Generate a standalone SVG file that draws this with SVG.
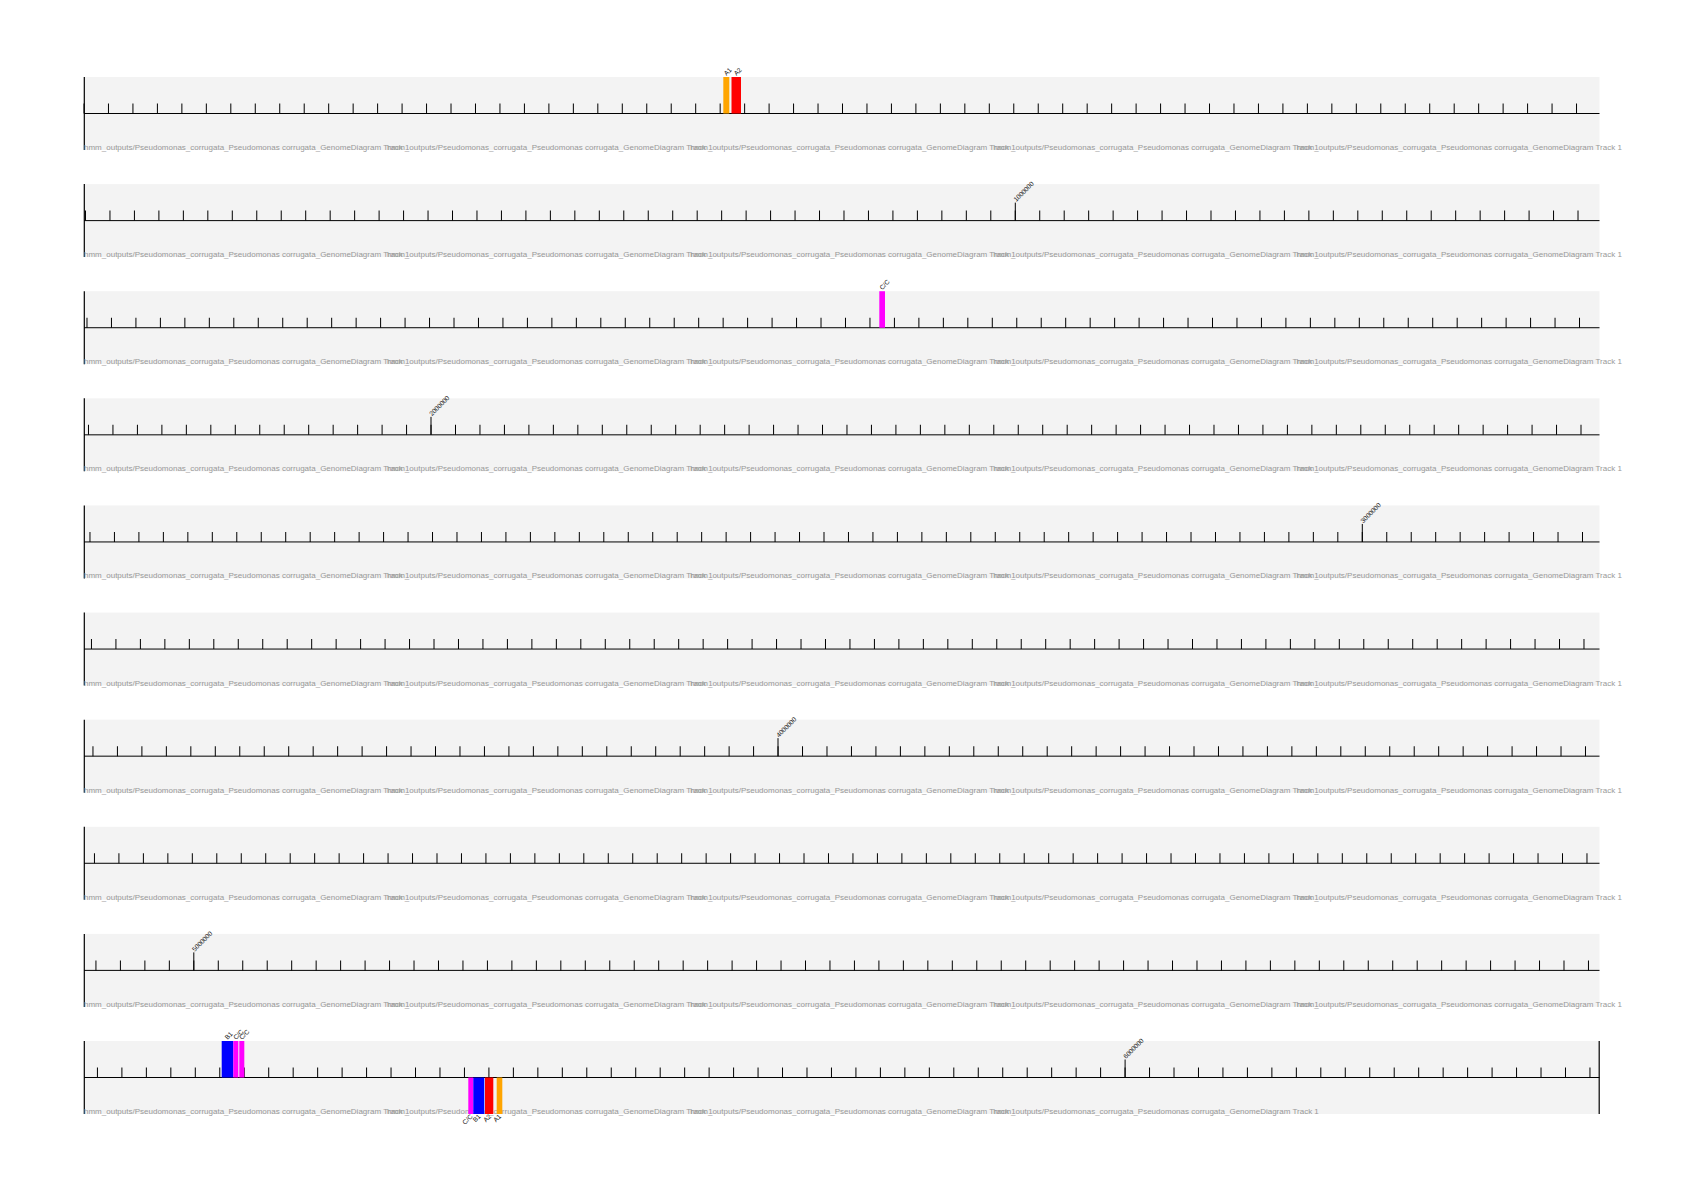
<svg xmlns="http://www.w3.org/2000/svg" width="1684" height="1191" viewBox="0 0 1684 1191">
<style>
.bg{fill:#ffffff}
.band{fill:#f3f3f3}
.axis{stroke:#000;stroke-width:1;fill:none}
.edge{stroke:#000;stroke-width:1.2;fill:none}
.ticks{stroke:#000;stroke-width:10;stroke-dasharray:1 23.4676;fill:none}
.big{stroke:#000;stroke-width:1;fill:none}
.lbl{font-family:"Liberation Sans",Arial,sans-serif;font-size:8px;fill:#999999}
.sl{font-family:"Liberation Sans",Arial,sans-serif;font-size:6.5px;fill:#111}
.fl{font-family:"Liberation Sans",Arial,sans-serif;font-size:6.5px;fill:#111}
.fr{font-family:"Liberation Sans",Arial,sans-serif;font-size:6.5px;fill:#111;text-anchor:end}
.orange{fill:#ffa500}
.red{fill:#ff0000}
.mag{fill:#ff00ff}
.blue{fill:#0000ff}
</style>
<defs>
<g id="labels5">
<text class="lbl" x="84" y="73">hmm_outputs/Pseudomonas_corrugata_Pseudomonas corrugata_GenomeDiagram Track 1</text>
<text class="lbl" x="387.1" y="73">hmm_outputs/Pseudomonas_corrugata_Pseudomonas corrugata_GenomeDiagram Track 1</text>
<text class="lbl" x="690.2" y="73">hmm_outputs/Pseudomonas_corrugata_Pseudomonas corrugata_GenomeDiagram Track 1</text>
<text class="lbl" x="993.3" y="73">hmm_outputs/Pseudomonas_corrugata_Pseudomonas corrugata_GenomeDiagram Track 1</text>
<text class="lbl" x="1296.4" y="73">hmm_outputs/Pseudomonas_corrugata_Pseudomonas corrugata_GenomeDiagram Track 1</text>
</g>
<g id="base">
<rect class="band" x="84" y="0" width="1515.5" height="73"/>
<line class="axis" x1="84" y1="36.5" x2="1599.5" y2="36.5"/>
<line class="edge" x1="84.3" y1="0" x2="84.3" y2="73"/>
</g>
</defs>
<rect class="bg" x="0" y="0" width="1684" height="1191"/>

<g id="row1" transform="translate(0,77)">
<use href="#base"/>
<line class="ticks" x1="83.5" y1="31.5" x2="1599.5" y2="31.5"/>
<use href="#labels5"/>
<g id="features1">
<rect class="orange" x="723.3" y="0" width="6" height="36.5"/>
<rect class="red" x="731.5" y="0" width="9.5" height="36.5"/>
<text class="fl" transform="translate(726.5,-1) rotate(-45)">A1</text>
<text class="fl" transform="translate(736.5,-1) rotate(-45)">A2</text>
</g>
</g>

<g id="row2" transform="translate(0,184.11)">
<use href="#base"/>
<line class="ticks" x1="84.99" y1="31.5" x2="1599.5" y2="31.5"/>
<line class="big" x1="1015.3" y1="18.5" x2="1015.3" y2="36.5"/>
<text class="sl" transform="translate(1016.3,18) rotate(-45)">1000000</text>
<use href="#labels5"/>
</g>

<g id="row3" transform="translate(0,291.22)">
<use href="#base"/>
<line class="ticks" x1="86.49" y1="31.5" x2="1599.5" y2="31.5"/>
<use href="#labels5"/>
<g id="features3">
<rect class="mag" x="879.3" y="0" width="5.7" height="36.5"/>
<text class="fl" transform="translate(882.2,-1) rotate(-45)">C/C</text>
</g>
</g>

<g id="row4" transform="translate(0,398.33)">
<use href="#base"/>
<line class="ticks" x1="87.98" y1="31.5" x2="1599.5" y2="31.5"/>
<line class="big" x1="431" y1="18.5" x2="431" y2="36.5"/>
<text class="sl" transform="translate(432,18) rotate(-45)">2000000</text>
<use href="#labels5"/>
</g>

<g id="row5" transform="translate(0,505.44)">
<use href="#base"/>
<line class="ticks" x1="89.47" y1="31.5" x2="1599.5" y2="31.5"/>
<line class="big" x1="1362.3" y1="18.5" x2="1362.3" y2="36.5"/>
<text class="sl" transform="translate(1363.3,18) rotate(-45)">3000000</text>
<use href="#labels5"/>
</g>

<g id="row6" transform="translate(0,612.56)">
<use href="#base"/>
<line class="ticks" x1="90.96" y1="31.5" x2="1599.5" y2="31.5"/>
<use href="#labels5"/>
</g>

<g id="row7" transform="translate(0,719.67)">
<use href="#base"/>
<line class="ticks" x1="92.46" y1="31.5" x2="1599.5" y2="31.5"/>
<line class="big" x1="778" y1="18.5" x2="778" y2="36.5"/>
<text class="sl" transform="translate(779,18) rotate(-45)">4000000</text>
<use href="#labels5"/>
</g>

<g id="row8" transform="translate(0,826.78)">
<use href="#base"/>
<line class="ticks" x1="93.95" y1="31.5" x2="1599.5" y2="31.5"/>
<use href="#labels5"/>
</g>

<g id="row9" transform="translate(0,933.89)">
<use href="#base"/>
<line class="ticks" x1="95.44" y1="31.5" x2="1599.5" y2="31.5"/>
<line class="big" x1="193.8" y1="18.5" x2="193.8" y2="36.5"/>
<text class="sl" transform="translate(194.8,18) rotate(-45)">5000000</text>
<use href="#labels5"/>
</g>

<g id="row10" transform="translate(0,1041)">
<use href="#base"/>
<line class="ticks" x1="96.93" y1="31.5" x2="1599.5" y2="31.5"/>
<line class="edge" x1="1599.2" y1="0" x2="1599.2" y2="73"/>
<line class="big" x1="1125.1" y1="18.5" x2="1125.1" y2="36.5"/>
<text class="sl" transform="translate(1126.1,18) rotate(-45)">6000000</text>
<text class="lbl" x="84" y="73">hmm_outputs/Pseudomonas_corrugata_Pseudomonas corrugata_GenomeDiagram Track 1</text>
<text class="lbl" x="387.1" y="73">hmm_outputs/Pseudomonas_corrugata_Pseudomonas corrugata_GenomeDiagram Track 1</text>
<text class="lbl" x="690.2" y="73">hmm_outputs/Pseudomonas_corrugata_Pseudomonas corrugata_GenomeDiagram Track 1</text>
<text class="lbl" x="993.3" y="73">hmm_outputs/Pseudomonas_corrugata_Pseudomonas corrugata_GenomeDiagram Track 1</text>
<g id="features10">
<rect class="blue" x="221.7" y="0" width="11.6" height="36.5"/>
<rect class="mag" x="233.3" y="0" width="5" height="36.5"/>
<rect class="mag" x="239.3" y="0" width="5" height="36.5"/>
<text class="fl" transform="translate(227.5,-1) rotate(-45)">B1</text>
<text class="fl" transform="translate(236,-1) rotate(-45)">C/C</text>
<text class="fl" transform="translate(242,-1) rotate(-45)">C/C</text>
<rect class="mag" x="468.3" y="36.5" width="5" height="36.5"/>
<rect class="blue" x="473.3" y="36.5" width="11" height="36.5"/>
<rect class="red" x="485" y="36.5" width="8.3" height="36.5"/>
<rect class="orange" x="496.7" y="36.5" width="5.6" height="36.5"/>
<text class="fr" transform="translate(473,76) rotate(-45)">C/C</text>
<text class="fr" transform="translate(481,76) rotate(-45)">B1</text>
<text class="fr" transform="translate(491.5,76) rotate(-45)">A2</text>
<text class="fr" transform="translate(501.5,76) rotate(-45)">A1</text>
</g>
</g>
</svg>
